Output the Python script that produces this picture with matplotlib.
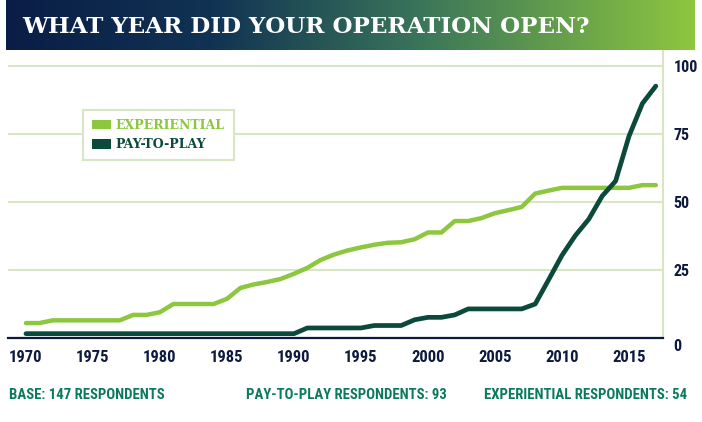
import numpy as np
import matplotlib
matplotlib.use("Agg")
import matplotlib.pyplot as plt
from matplotlib import font_manager as fm
from matplotlib.colors import LinearSegmentedColormap
from matplotlib.patches import Patch
from matplotlib.transforms import ScaledTranslation

# data
years = list(range(1970, 2018))
experiential = [
    5.6, 5.6, 6.6, 6.6, 6.6, 6.6, 6.6, 6.6, 8.6, 8.6,
    9.6, 12.6, 12.6, 12.6, 12.6, 14.5, 18.5, 19.8, 20.7, 21.8,
    23.7, 25.9, 28.8, 30.8, 32.3, 33.4, 34.4, 35.1, 35.3, 36.4,
    38.9, 38.9, 43.1, 43.1, 44.2, 46.0, 47.1, 48.3, 53.2, 54.3,
    55.3, 55.3, 55.3, 55.3, 55.3, 55.3, 56.3, 56.3,
]
pay_to_play = [
    1.7, 1.7, 1.7, 1.7, 1.7, 1.7, 1.7, 1.7, 1.7, 1.7,
    1.7, 1.7, 1.7, 1.7, 1.7, 1.7, 1.7, 1.7, 1.7, 1.7,
    1.7, 3.8, 3.8, 3.8, 3.8, 3.8, 4.7, 4.7, 4.7, 6.8,
    7.7, 7.7, 8.6, 10.8, 10.8, 10.8, 10.8, 10.8, 12.6, 21.5,
    30.5, 37.8, 43.8, 52.3, 57.8, 74.3, 86.3, 92.7,
]
x_ticks = list(range(1970, 2016, 5))
y_ticks = [0, 25, 50, 75, 100]
title = "WHAT YEAR DID YOUR OPERATION OPEN?"
series_labels = ["EXPERIENTIAL", "PAY-TO-PLAY"]
footnotes = ["BASE: 147 RESPONDENTS", "PAY-TO-PLAY RESPONDENTS: 93",
             "EXPERIENTIAL RESPONDENTS: 54"]

LIGHT = "#8dc63f"
DARK = "#0b4a3a"
NAVY = "#0d1a3d"
GRID = "#d8e6c6"
TEAL = "#0a7a5c"

names = {f.name for f in fm.fontManager.ttflist}


def pick(cands, default):
    for c in cands:
        if c in names:
            return c
    return default


narrow = pick(["Liberation Sans Narrow", "Roboto Condensed", "DejaVu Sans Condensed"], "Liberation Sans")
slab = "DejaVu Serif"

W, H = 702, 422
fig = plt.figure(figsize=(W / 100, H / 100), dpi=100)

# gradient title banner
bax = fig.add_axes([6 / W, 1 - 50 / H, 689 / W, 50 / H])
cmap = LinearSegmentedColormap.from_list(
    "banner", [(0, "#0a1d46"), (0.3, "#113353"), (0.6, "#3a755a"), (1, "#8dc63f")])
bax.imshow(np.linspace(0, 1, 256)[None, :], aspect="auto", cmap=cmap, extent=(0, 1, 0, 1))
bax.set_axis_off()
t = fig.text(22 / W, 1 - 33 / H, title, color="white", fontsize=20,
             family=slab, weight="bold", va="baseline", ha="left")

# main axes
left_px, right_px, top_px, bot_px = 8, 663.3, 51, 338.3
ax = fig.add_axes([left_px / W, 1 - bot_px / H, (right_px - left_px) / W, (bot_px - top_px) / H])
ax.plot(years, experiential, color=LIGHT, lw=3.2, solid_capstyle="round", solid_joinstyle="round", zorder=3)
ax.plot(years, pay_to_play, color=DARK, lw=3.4, solid_capstyle="round", solid_joinstyle="round", zorder=4)

ax.set_xlim(1968.66, 2017.56)
ax.set_ylim(0, 105.6)
ax.set_xticks(x_ticks)
ax.set_yticks(y_ticks)
ax.yaxis.tick_right()
ax.grid(axis="y", color=GRID, lw=1.5)
ax.set_axisbelow(True)
for s in ["top", "left"]:
    ax.spines[s].set_visible(False)
ax.spines["right"].set_color(GRID)
ax.spines["right"].set_linewidth(1.5)
ax.spines["bottom"].set_color(NAVY)
ax.spines["bottom"].set_linewidth(1.6)
ax.spines["bottom"].set_zorder(5)
ax.tick_params(axis="x", length=0, pad=8.5, labelsize=12, labelcolor=NAVY)
ax.tick_params(axis="y", length=0, pad=7.5, labelsize=11.5, labelcolor=NAVY)
for lab in ax.get_xticklabels() + ax.get_yticklabels():
    lab.set_family(narrow)
    lab.set_weight("bold")
zero_lab = ax.get_yticklabels()[0]
zero_lab.set_transform(zero_lab.get_transform() + ScaledTranslation(0, -5 / 72, fig.dpi_scale_trans))

handles = [Patch(facecolor=LIGHT, edgecolor="none"), Patch(facecolor=DARK, edgecolor="none")]
leg = ax.legend(handles, series_labels, loc="upper left", bbox_to_anchor=(83 / W, 1 - 110 / H),
                bbox_transform=fig.transFigure, frameon=True, fancybox=False, framealpha=1,
                edgecolor=GRID, facecolor="white", borderaxespad=0, borderpad=0.72,
                handlelength=1.5, handleheight=0.8, handletextpad=0.4, labelspacing=0.5,
                labelcolor=[LIGHT, DARK],
                prop=fm.FontProperties(family=slab, weight="bold", size=9))
leg.get_frame().set_linewidth(1.5)

fy = 1 - 395 / H
fkw = dict(family=narrow, weight="bold", fontsize=11.5, color=TEAL, va="center")
foot = [fig.text(9 / W, fy, footnotes[0], ha="left", **fkw),
        fig.text(246 / W, fy, footnotes[1], ha="left", **fkw),
        fig.text(687 / W, fy, footnotes[2], ha="right", **fkw)]
foot_widths = [157, 197, 205]

# fit text widths to the spans seen in the reference
fig.canvas.draw()
r = fig.canvas.get_renderer()
t.set_fontsize(20 * 567 / t.get_window_extent(r).width)
ratios = [wt / f.get_window_extent(r).width for f, wt in zip(foot, foot_widths)]
for f in foot:
    f.set_fontsize(11.5 * float(np.mean(ratios)))

fig.savefig("out.png", dpi=100)
